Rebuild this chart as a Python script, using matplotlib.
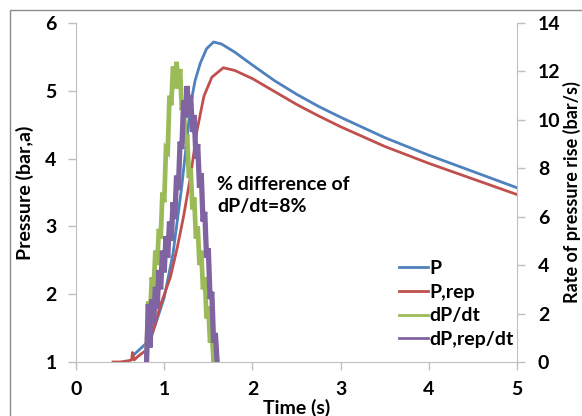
import matplotlib
matplotlib.use("Agg")
import matplotlib.pyplot as plt
from matplotlib.patches import Rectangle

plt.rcParams['font.family'] = ['Lato', 'DejaVu Sans']
plt.rcParams['font.weight'] = 'bold'

# ---- data ----
t_p = [0.65, 0.70, 0.75, 0.80, 0.90, 1.00, 1.10, 1.20, 1.25, 1.30, 1.35, 1.41, 1.48,
       1.56, 1.65, 1.80, 2.00, 2.25, 2.50, 2.75, 3.00, 3.50, 4.00, 4.50, 5.00]
p = [1.10, 1.16, 1.22, 1.28, 1.55, 1.95, 2.60, 3.60, 4.20, 4.80, 5.15, 5.41, 5.62,
     5.72, 5.69, 5.57, 5.38, 5.15, 4.95, 4.77, 4.61, 4.31, 4.05, 3.81, 3.57]

t_rep = [0.42, 0.50, 0.60, 0.63, 0.64, 0.66, 0.70, 0.80, 0.88, 0.95, 1.07, 1.15, 1.22,
         1.30, 1.37, 1.45, 1.54, 1.67, 1.80, 2.00, 2.25, 2.50, 2.75, 3.00, 3.50, 4.00,
         4.50, 5.00]
p_rep = [1.00, 1.00, 1.02, 1.03, 1.14, 1.03, 1.08, 1.18, 1.47, 1.81, 2.25, 2.70, 3.15,
         3.75, 4.40, 4.92, 5.20, 5.34, 5.30, 5.18, 4.99, 4.80, 4.63, 4.47, 4.18, 3.93,
         3.70, 3.47]

t_dpdt = [0.80, 0.82, 0.84, 0.86, 0.88, 0.90, 0.92, 0.94, 0.96, 0.98, 1.00, 1.02, 1.04,
          1.06, 1.08, 1.10, 1.12, 1.14, 1.16, 1.18, 1.20, 1.22, 1.24, 1.26, 1.28, 1.30,
          1.32, 1.34, 1.36, 1.38, 1.40, 1.42, 1.44, 1.46, 1.48, 1.50, 1.52, 1.54, 1.56,
          1.58]
dpdt = [0.3, 2.5, 1.9, 3.5, 3.0, 4.6, 4.0, 5.5, 5.1, 7.0, 6.6, 8.8, 8.7,
        11.0, 10.6, 12.2, 11.3, 12.4, 11.3, 12.1, 10.4, 10.8, 9.0, 9.4, 7.6, 8.0,
        6.3, 6.8, 5.1, 5.6, 4.0, 4.6, 3.0, 3.5, 1.8, 2.3, 0.8, 1.2, 0.0,
        0.2]

t_dprep = [0.80, 0.82, 0.84, 0.86, 0.88, 0.90, 0.92, 0.94, 0.96, 0.98, 1.00, 1.02, 1.04,
           1.06, 1.08, 1.10, 1.12, 1.14, 1.16, 1.18, 1.20, 1.22, 1.24, 1.26, 1.28, 1.30,
           1.32, 1.34, 1.36, 1.38, 1.40, 1.42, 1.44, 1.46, 1.48, 1.50, 1.52, 1.54, 1.56,
           1.58, 1.60]
dprep = [0.0, 2.4, 0.6, 2.6, 1.6, 3.1, 2.2, 3.8, 3.0, 4.6, 3.7, 5.2, 4.3,
         5.8, 5.0, 6.6, 5.9, 7.7, 7.1, 9.1, 8.8, 10.8, 10.1, 11.4, 10.2, 11.0,
         9.5, 10.2, 8.4, 9.0, 7.2, 7.8, 5.8, 6.2, 4.3, 4.7, 2.6, 2.9, 0.8,
         1.2, 0.0]

labels = ['P', 'P,rep', 'dP/dt', 'dP,rep/dt']
colors = ['#4F81BD', '#C0504D', '#9BBB59', '#8064A2']
x_ticks = [0, 1, 2, 3, 4, 5]
y_ticks = [1, 2, 3, 4, 5, 6]
y2_ticks = [0, 2, 4, 6, 8, 10, 12, 14]

FS = 14
W, H = 582, 416
fig = plt.figure(figsize=(W / 100, H / 100), dpi=100)
ax = fig.add_axes([76 / W, 1 - 362 / H, (517 - 76) / W, (362 - 23) / H])
ax2 = ax.twinx()

l1, = ax.plot(t_p, p, color=colors[0], lw=2.0, label=labels[0])
l2, = ax.plot(t_rep, p_rep, color=colors[1], lw=2.0, label=labels[1])
l3, = ax2.plot(t_dpdt, dpdt, color=colors[2], lw=3.4, label=labels[2], solid_joinstyle='miter')
l4, = ax2.plot(t_dprep, dprep, color=colors[3], lw=3.8, label=labels[3], solid_joinstyle='miter')

ax.set_xlim(0, 5)
ax.set_ylim(1, 6)
ax2.set_ylim(0, 14)
ax.set_xticks(x_ticks)
ax.set_yticks(y_ticks)
ax2.set_yticks(y2_ticks)

spine_c = '#BFBFBF'
for a in (ax, ax2):
    for s in a.spines.values():
        s.set_color(spine_c)
    a.spines['top'].set_visible(False)
ax.spines['right'].set_visible(False)
ax2.spines['left'].set_visible(False)
ax2.spines['bottom'].set_visible(False)

ax.tick_params(axis='both', direction='out', length=6, width=1, color=spine_c,
               labelsize=FS, pad=8)
ax.tick_params(axis='x', pad=8)
ax2.tick_params(axis='y', direction='out', length=6, width=1, color=spine_c,
                labelsize=FS, pad=9)
for lab in ax.get_xticklabels() + ax.get_yticklabels() + ax2.get_yticklabels():
    lab.set_fontweight('bold')

ax.set_xlabel('Time (s)', fontsize=FS, fontweight='bold', labelpad=0)
ax.set_ylabel('Pressure (bar,a)', fontsize=FS, fontweight='bold', labelpad=8)
ax2.set_ylabel('Rate of pressure rise (bar/s)', fontsize=13, fontweight='bold', labelpad=2)

ax.text(1.60, 3.46, '% difference of\ndP/dt=8%', fontsize=FS, fontweight='bold',
        ha='left', va='center', linespacing=1.35)

leg = fig.legend(handles=[l1, l2, l3, l4], loc='center left',
                 bbox_to_anchor=(389 / W, 1 - 304 / H), frameon=False,
                 fontsize=FS, handlelength=1.5, handletextpad=0.1,
                 labelspacing=0.35, borderpad=0)
for t in leg.get_texts():
    t.set_fontweight('bold')
for h in leg.legend_handles:
    h.set_linewidth(2.0)

fig.patches.append(Rectangle((10 / W, -0.1), 1.2, (H - 10) / H + 0.1,
                             transform=fig.transFigure, fill=False,
                             edgecolor='#8C8C8C', lw=1.0, clip_on=False))

fig.savefig('out.png', dpi=100)
